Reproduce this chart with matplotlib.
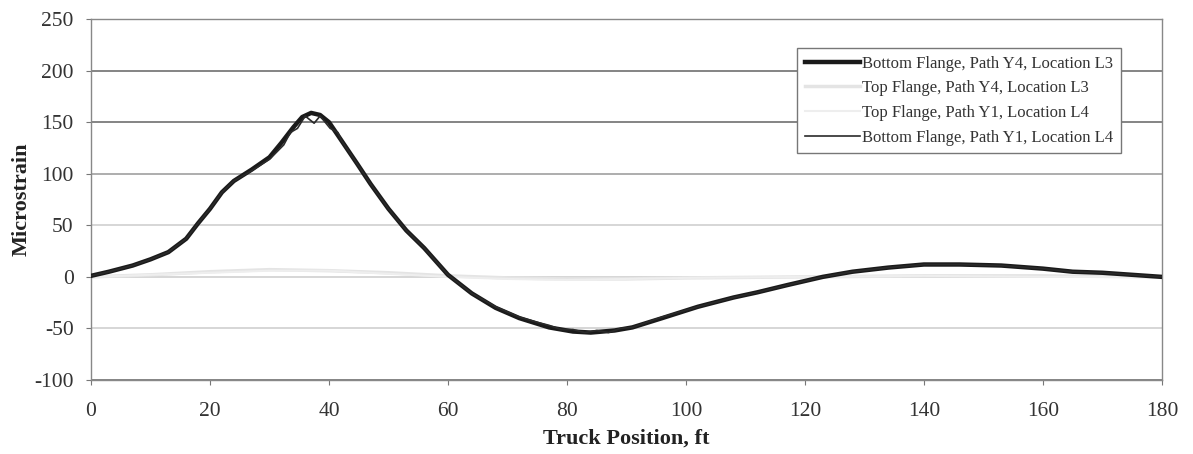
import matplotlib
matplotlib.use("Agg")
import matplotlib.pyplot as plt

plt.rcParams['font.family'] = ['Liberation Serif', 'DejaVu Serif']
plt.rcParams['axes.unicode_minus'] = False

# Truck position (ft) and strain readings for each gauge
x_bot_l3 = [0, 3, 7, 10, 13, 16, 18, 20, 22, 24, 27, 30, 32, 34, 35.5, 37, 38.5, 40,
            42, 44.7, 47, 50, 53, 56, 60, 64, 68, 72, 77, 81, 84, 88, 91, 96, 102,
            108, 112, 117, 123, 128, 134, 140, 146, 153, 160, 165, 170, 175, 180]
bot_l3 = [1, 5, 11, 17, 24, 37, 52, 66, 82, 93, 104, 116, 130, 145, 155, 159, 157, 150,
          133, 110, 90, 66, 45, 28, 2, -16, -30, -40, -49, -53, -54, -52, -49, -40, -29,
          -20, -15, -8, 0, 5, 9, 12, 12, 11, 8, 5, 4, 2, 0]

x_bot_l4 = [0, 3, 7, 10, 13, 16, 18, 20, 22, 24, 27, 30, 32.4, 33.5, 34.7, 36, 37.5, 38.5,
            40.2, 41.5, 42, 44.7, 47, 50, 53, 56, 60, 64, 68, 72, 75, 77, 79, 81, 83, 85,
            87, 89, 91, 96, 102, 108, 112, 117, 123, 128, 134, 140, 146, 153, 160, 165,
            170, 175, 180]
bot_l4 = [1, 5, 11, 17, 24, 37, 52, 66, 82, 93, 103, 114, 128, 140, 144, 156, 149, 156,
          144, 140, 133, 110, 90, 66, 45, 28, 2, -16, -29, -39, -44, -47, -51, -51, -54, -52,
          -54, -50, -49, -39, -29, -20, -15, -8, 0, 5, 9, 12, 12, 11, 8, 5,
          4, 2, 0]

x_top = [0, 10, 20, 30, 40, 50, 60, 70, 80, 90, 100, 120, 140, 160, 180]
top_l3 = [0, 2, 5, 7, 6, 4, 1, -1, -2, -2, -1, 0, 1, 1, 0]
top_l4 = [0, 2, 4, 6, 6, 3, 0, -2, -3, -2, -1, 0, 1, 0, 0]

xticks = list(range(0, 181, 20))
yticks = list(range(-100, 251, 50))
grid_colors = {250: '#707070', 200: '#707070', 150: '#707070', 100: '#a0a0a0',
               50: '#d0d0d0', 0: '#d0d0d0', -50: '#d0d0d0', -100: '#707070'}

fig = plt.figure(figsize=(11.93, 4.54), dpi=100)
ax = fig.add_axes([0.0763, 0.163, 0.8976, 0.795])

for yv in yticks:
    ax.axhline(yv, color=grid_colors[yv], lw=1.2, zorder=1)

ax.plot(x_bot_l3, bot_l3, color='#1a1a1a', lw=3.2, label='Bottom Flange, Path Y4, Location L3', zorder=3)
ax.plot(x_top, top_l3, color='#e4e4e4', lw=2.5, label='Top Flange, Path Y4, Location L3', zorder=2)
ax.plot(x_top, top_l4, color='#eeeeee', lw=1.5, label='Top Flange, Path Y1, Location L4', zorder=2)
ax.plot(x_bot_l4, bot_l4, color='#2a2a2a', lw=1.2, label='Bottom Flange, Path Y1, Location L4', zorder=4)

ax.set_xlim(0, 180)
ax.set_ylim(-100, 250)
ax.set_xticks(xticks)
ax.set_yticks(yticks)
ax.tick_params(axis='both', labelsize=15.5, color='#777777', labelcolor='#333333',
               direction='out', length=3.6)
ax.tick_params(axis='x', pad=12)
ax.tick_params(axis='y', pad=9)
for s in ax.spines.values():
    s.set_color('#888888')
    s.set_linewidth(1)

ax.set_xlabel('Truck Position, ft', fontsize=16, fontweight='bold', color='#222222', labelpad=6)
ax.set_ylabel('Microstrain', fontsize=16, fontweight='bold', color='#222222', labelpad=2)

leg = ax.legend(loc='upper left', bbox_to_anchor=(797 / 1193, 1 - 48 / 454),
                bbox_transform=fig.transFigure, fontsize=12, frameon=True,
                fancybox=False, edgecolor='#777777', framealpha=1,
                handlelength=3.3, handletextpad=0.15, borderpad=0.45, labelspacing=0.52,
                borderaxespad=0)
leg.get_frame().set_linewidth(1)
leg.set_zorder(5)
for t in leg.get_texts():
    t.set_color('#333333')

fig.savefig('out.png', dpi=100, facecolor='white')
